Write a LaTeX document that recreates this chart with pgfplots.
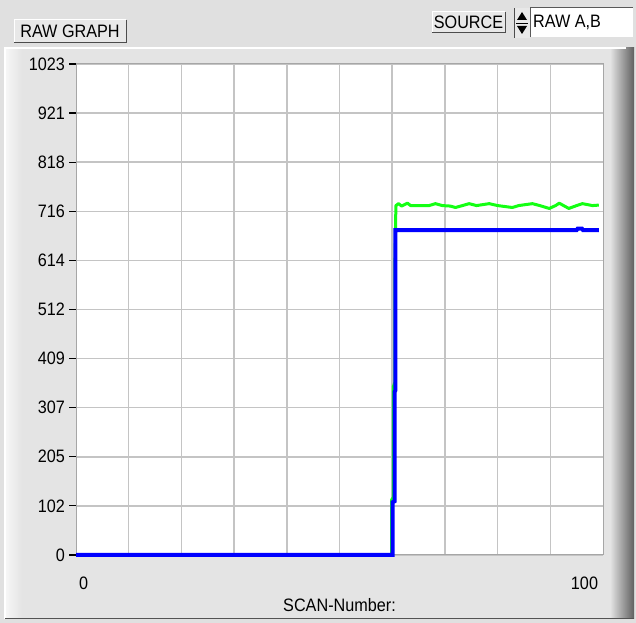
\documentclass[border=0pt]{standalone}
\usepackage{fontspec}
\setmainfont{Liberation Sans}[FakeStretch=0.9]
\usepackage{pgfplots}
\pgfplotsset{compat=1.18}
\definecolor{panel}{RGB}{224,224,224}
\definecolor{framec}{RGB}{228,228,228}
\definecolor{btn}{RGB}{232,232,232}
\definecolor{gridc}{RGB}{196,196,196}
\definecolor{lvgreen}{RGB}{20,255,20}
\definecolor{lvblue}{RGB}{0,0,255}
\begin{document}
\fontsize{18bp}{20bp}\selectfont
\begin{tikzpicture}[x=1bp,y=1bp,font=\fontsize{18bp}{20bp}\selectfont]
\useasboundingbox (0,0) rectangle (636,623);
\fill[panel] (0,0) rectangle (636,623);
% graph frame
\fill[framec] (5,4) rectangle (633,575);
\shade[left color=white!70!framec, right color=framec] (5,4) rectangle (22,575);
\shade[left color=framec, right color=gray!75!black] (610,4) rectangle (634,575);
\draw[white, line width=1.5bp] (5,4) -- (5,575) -- (626,575);
\draw[gray!65!black, line width=1bp] (5,4.5) -- (634,4.5);
% RAW GRAPH button
\fill[btn] (14,580) rectangle (126,603);
\draw[white, line width=1bp] (14,580) -- (14,603) -- (126,603);
\draw[gray!60!black, line width=1bp] (14,580) -- (126,580) -- (126,603);
\node[inner sep=0] at (70,591.5) {RAW GRAPH};
% SOURCE button
\fill[btn] (432,590) rectangle (505,611);
\draw[white, line width=1bp] (432,590) -- (432,611) -- (505,611);
\draw[gray!60!black, line width=1bp] (432,590) -- (505,590) -- (505,611);
\node[inner sep=0] at (468.5,600.5) {SOURCE};
% spinner
\fill[btn] (514,585) rectangle (530,615);
\draw[gray!60!black, line width=1bp] (514,585) -- (514,615);
\draw[black, line width=0.8bp] (516,600) -- (528,600);
\fill[black] (517,603) -- (527,603) -- (522,611) -- cycle;
\fill[black] (517,597) -- (527,597) -- (522,589) -- cycle;
% text box
\fill[white] (530,586) rectangle (633,615);
\draw[gray!70!black, line width=1bp] (530,586) -- (530,615) -- (633,615);
\node[anchor=west, inner sep=0] at (533,600.5) {RAW A,B};
\begin{axis}[
  at={(76bp,68bp)}, anchor=south west,
  scale only axis, width=527bp, height=491bp,
  xmin=0, xmax=100, ymin=0, ymax=1023,
  clip=false,
  axis background/.style={fill=white},
  axis line style={draw=gray!70, line width=1bp},
  /pgf/number format/assume math mode=true,
  ytick={0,102.3,204.6,306.9,409.2,511.5,613.8,716.1,818.4,920.7,1023},
  yticklabels={0,102,205,307,409,512,614,716,818,921,1023},
  ytick pos=left, tick align=outside,
  major tick length=7bp,
  ytick style={draw=black, line width=1.2bp},
  yticklabel style={anchor=east, inner sep=0pt, xshift=-4bp},
  xtick={0,100},
  xticklabels={{\makebox[0pt][l]{\hspace{3bp}0}},{\makebox[0pt][r]{100\hspace{5bp}}}},
  xtick style={draw=none},
  xticklabel style={anchor=north, inner sep=0pt, yshift=-15bp},
  minor xtick={10,20,...,90},
  minor tick length=0pt,
  ymajorgrids, xminorgrids,
  minor x grid style={gridc, line width=1.5bp},
  major grid style={gridc, line width=1.5bp},
  xlabel={SCAN-Number:},
  xlabel style={at={(axis description cs:0.5,-0.1018)}, anchor=center, inner sep=0pt},
]
\addplot[lvgreen, line width=3bp, line join=round] coordinates {
(0,0) (59.9,0) (59.9,115) (60.2,120) (60.2,350) (60.5,360) (60.5,600) (60.7,728)
(61.2,732) (61.8,727) (62.9,733) (63.5,728) (67,728) (68.2,732) (69.5,728) (71,727)
(72,724) (73,727) (74.6,732) (76,728) (78.4,732) (80,728) (82.8,724) (84,728)
(86.6,732) (88,728) (89.8,722) (91,728) (91.7,733) (93.5,722) (95,728) (96.1,732)
(98,728) (99.2,729)
};
\addplot[lvblue, line width=4bp, line join=miter] coordinates {
(0,0) (60.1,0) (60.1,110) (60.45,112) (60.45,340) (60.6,343) (60.6,677)
(95,677) (95.2,680) (96,680) (96.2,677) (99.2,677)
};
\end{axis}
\end{tikzpicture}
\end{document}
